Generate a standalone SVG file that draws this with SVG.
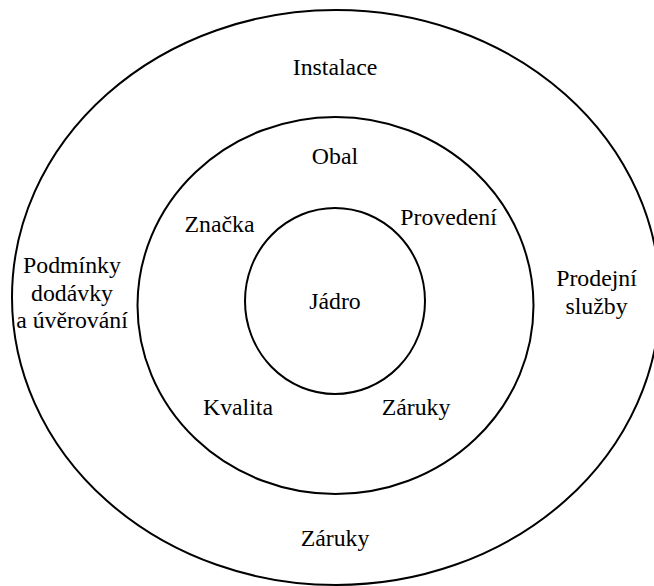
<svg xmlns="http://www.w3.org/2000/svg" width="654" height="586" viewBox="0 0 654 586">
<style>
.ring{fill:none;stroke:#000;stroke-width:2}
text{font-family:"Liberation Serif","Times New Roman",serif;font-size:23.8px;fill:#000;text-anchor:middle}
</style>
<rect width="654" height="586" fill="#fff"/>
<g id="outer">
<ellipse class="ring" cx="336" cy="297.5" rx="324" ry="287.5"/>
<text x="335" y="75">Instalace</text>
<text x="335" y="546">Záruky</text>
<text x="72" y="273">Podmínky</text>
<text x="72" y="300.5">dodávky</text>
<text x="72" y="328">a úvěrování</text>
<text x="596.5" y="286">Prodejní</text>
<text x="596.5" y="313.5">služby</text>
</g>
<g id="middle">
<ellipse class="ring" cx="335.5" cy="305.5" rx="198" ry="188.5"/>
<text x="335" y="164">Obal</text>
<text x="219.5" y="232">Značka</text>
<text x="448.5" y="225">Provedení</text>
<text x="238" y="415">Kvalita</text>
<text x="416" y="415">Záruky</text>
</g>
<g id="core">
<ellipse class="ring" cx="335" cy="301" rx="90" ry="93"/>
<text x="335" y="309">Jádro</text>
</g>
<g id="connectors"/>
</svg>
